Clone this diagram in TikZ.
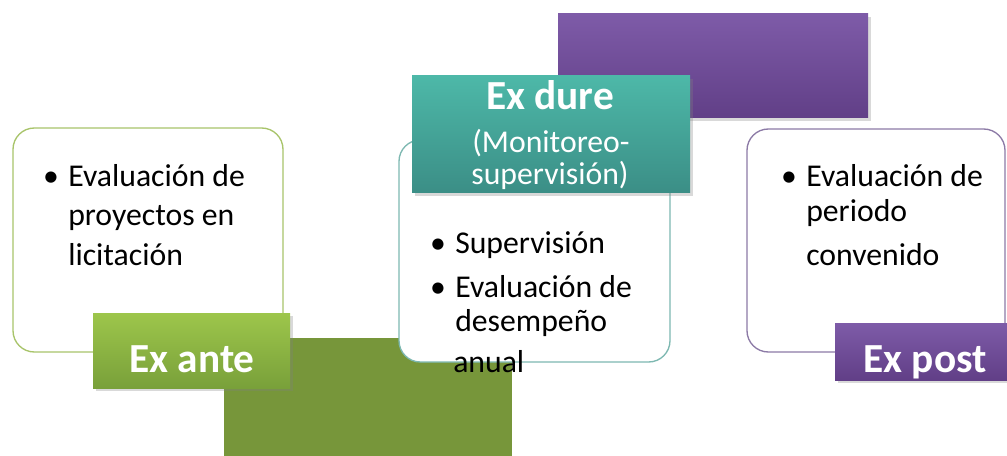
\documentclass[tikz,border=0pt]{standalone}
\usepackage{fontspec}
\setmainfont{Carlito}
\usepackage{xcolor}
\usetikzlibrary{shadows}
\definecolor{lgreen}{HTML}{A8C46A}
\definecolor{gtop}{HTML}{9DC64B}
\definecolor{gbot}{HTML}{79A03A}
\definecolor{dgreen}{HTML}{77963A}
\definecolor{lteal}{HTML}{7DB8B1}
\definecolor{ttop}{HTML}{4DB8A8}
\definecolor{tbot}{HTML}{3B8E86}
\definecolor{lpurple}{HTML}{8C7AA6}
\definecolor{ptop}{HTML}{7E5BA8}
\definecolor{pbot}{HTML}{613F87}
\tikzset{
  card/.style={draw=#1, line width=1pt, fill=white, rounded corners=16pt},
  tab/.style={drop shadow={opacity=0.3, shadow xshift=2pt, shadow yshift=-2.5pt}},
  title/.style={text=white, inner sep=0pt, font=\fontsize{31}{34}\selectfont\bfseries, anchor=base},
  sub/.style={text=white, inner sep=0pt, font=\fontsize{23.8}{24}\selectfont, anchor=base},
  body/.style={text=black, inner sep=0pt, font=\fontsize{23.8}{30}\selectfont, anchor=base west},
  dotmark/.style={text=black, inner sep=0pt, font=\fontsize{23.8}{30}\selectfont, anchor=base}
}
\begin{document}
\begin{tikzpicture}[x=0.75pt, y=-0.75pt]
  \useasboundingbox (0,0) rectangle (1007,456);

  % back blocks
  \fill[dgreen] (224,338) rectangle (512,460);
  \shade[top color=ptop, bottom color=pbot, tab] (558,14) rectangle (868,118);

  % left card
  \path[card=lgreen] (13,128) rectangle (283,352);
  \node[dotmark] (b1) at (51,187) {\textbullet};
  \node[body] (t1a) at (68,187) {Evaluación de};
  \node[body] (t1b) at (68,225) {proyectos en};
  \node[body] (t1c) at (68,265) {licitación};
  \shade[top color=gtop, bottom color=gbot, tab] (93,313) rectangle (290,388);
  \node[title] (exante) at (192,372) {Ex ante};

  % middle card
  \path[card=lteal] (399,140) rectangle (670,362);
  \node[dotmark] (b2) at (438,253) {\textbullet};
  \node[body] (t2a) at (455,253) {Supervisión};
  \node[dotmark] (b3) at (438,297) {\textbullet};
  \node[body] (t2b) at (455,297) {Evaluación de};
  \node[body] (t2c) at (455,331) {desempeño};
  \node[body] (t2d) at (453,372) {anual};
  \shade[top color=ttop, bottom color=tbot, tab] (412,76) rectangle (690,193);
  \node[title] (exdure) at (550,110) {Ex dure};
  \node[sub] (mon) at (551,153) {(Monitoreo-};
  \node[sub] (sup) at (550,185) {supervisión)};

  % right card
  \path[card=lpurple] (747,129) rectangle (1005,352);
  \node[dotmark] (b4) at (789,187) {\textbullet};
  \node[body] (t3a) at (806,187) {Evaluación de};
  \node[body] (t3b) at (806,222) {periodo};
  \node[body] (t3c) at (806,265) {convenido};
  \shade[top color=ptop, bottom color=pbot, tab] (835,323) rectangle (1009,380);
  \node[title] (expost) at (925,372) {Ex post};
\end{tikzpicture}
\end{document}
